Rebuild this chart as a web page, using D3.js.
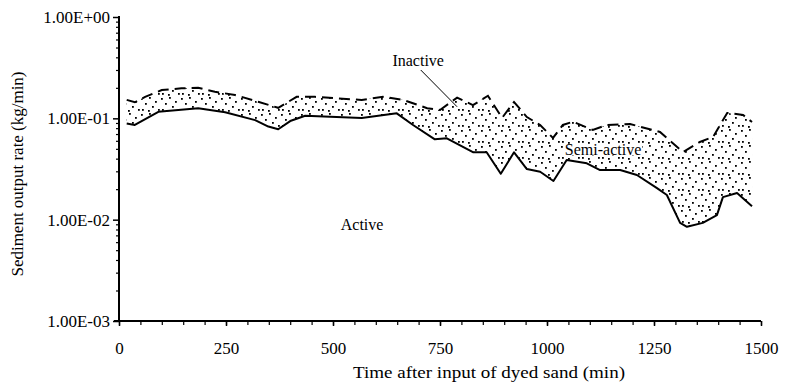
<!DOCTYPE html>
<html>
<head>
<meta charset="utf-8">
<script src="https://cdn.jsdelivr.net/npm/d3@7"></script>
<style>
  body { margin: 0; background: #fff; }
  text { font-family: "Liberation Serif", "Times New Roman", serif; fill: #000; }
</style>
</head>
<body>
<svg id="chart" width="796" height="384"></svg>
<script>
// Lower boundary of the semi-active band (Active / Semi-active limit)
const activeTime = [18, 37, 92, 185, 248, 318, 349, 372, 400, 435, 567, 649, 687, 738, 766, 828, 859, 892, 923, 953, 984, 1015, 1046, 1093, 1124, 1171, 1210, 1257, 1280, 1311, 1327, 1364, 1397, 1411, 1444, 1479];
const activeRate = [0.089, 0.086, 0.116, 0.126, 0.115, 0.096, 0.083, 0.078, 0.094, 0.106, 0.101, 0.112, 0.086, 0.062, 0.0635, 0.0462, 0.0462, 0.0284, 0.0462, 0.0316, 0.0297, 0.0241, 0.0388, 0.036, 0.0309, 0.0309, 0.0276, 0.0205, 0.0175, 0.0093, 0.0085, 0.0093, 0.0111, 0.0167, 0.0183, 0.0136];

// Upper boundary of the semi-active band (Semi-active / Inactive limit)
const inactiveTime = [18, 37, 61, 100, 146, 185, 224, 271, 325, 372, 396, 415, 458, 567, 617, 664, 720, 750, 790, 827, 862, 895, 923, 953, 984, 1014, 1037, 1061, 1107, 1140, 1194, 1264, 1318, 1357, 1388, 1421, 1458, 1479];
const inactiveRate = [0.152, 0.144, 0.163, 0.190, 0.198, 0.200, 0.183, 0.170, 0.146, 0.127, 0.146, 0.163, 0.163, 0.152, 0.163, 0.152, 0.126, 0.121, 0.160, 0.135, 0.167, 0.101, 0.145, 0.103, 0.086, 0.064, 0.086, 0.0926, 0.0767, 0.086, 0.088, 0.0733, 0.0465, 0.0584, 0.0655, 0.113, 0.108, 0.092];

// Axis ticks
const xMajorTicks = [0, 250, 500, 750, 1000, 1250, 1500];
const xMinorStep = 50;
const yMajorTicks = [0.001, 0.01, 0.1, 1];
const yTickLabels = ["1.00E-03", "1.00E-02", "1.00E-01", "1.00E+00"];

// Zone labels, placed in data coordinates
const zoneNames = ["Inactive", "Semi-active", "Active"];
const zoneTime = [699, 1131, 568];
const zoneRate = [0.33, 0.043, 0.0079];
// Leader from the "Inactive" label to the band
const leaderTime = [705, 790];
const leaderRate = [0.30, 0.13];

const svg = d3.select("#chart");

const x = d3.scaleLinear().domain([0, 1500]).range([119, 761]);
const y = d3.scaleLog().domain([0.001, 1]).range([321, 17]);

const active = activeTime.map((t, i) => [t, activeRate[i]]);
const inactive = inactiveTime.map((t, i) => [t, inactiveRate[i]]);

// Stipple pattern for the semi-active band
const defs = svg.append("defs");
const pat = defs.append("pattern")
  .attr("id", "stipple")
  .attr("patternUnits", "userSpaceOnUse")
  .attr("width", 20).attr("height", 16);
const dots = [[1, 2], [9, 1], [15, 5], [5, 7], [12, 10], [2, 13], [18, 13], [8, 14]];
pat.selectAll("rect").data(dots).join("rect")
  .attr("x", d => d[0]).attr("y", d => d[1])
  .attr("width", 1.8).attr("height", 1.8)
  .attr("fill", "#000");

const lineGen = d3.line().x(d => x(d[0])).y(d => y(d[1]));

// Band polygon: upper boundary forward, lower boundary back
const band = inactive.concat(active.slice().reverse());
svg.append("path")
  .attr("d", d3.line().x(d => x(d[0])).y(d => y(d[1])).curve(d3.curveLinearClosed)(band))
  .attr("fill", "url(#stipple)")
  .attr("stroke", "none");

svg.append("path")
  .attr("d", lineGen(active))
  .attr("fill", "none").attr("stroke", "#000").attr("stroke-width", 2)
  .attr("stroke-linejoin", "round");

svg.append("path")
  .attr("d", lineGen(inactive))
  .attr("fill", "none").attr("stroke", "#000").attr("stroke-width", 2)
  .attr("stroke-dasharray", "11,6");

// Y axis: minor ticks for 2..9 in each decade
const yMinor = [];
for (let e = -3; e < 0; e++) for (let m = 2; m <= 9; m++) yMinor.push(m * Math.pow(10, e));
svg.append("g").attr("transform", "translate(119,0)")
  .call(d3.axisLeft(y).tickValues(yMinor).tickSize(3).tickFormat(""))
  .call(g => g.select(".domain").remove())
  .selectAll("line").attr("stroke-width", 1.2);

const yAxis = svg.append("g").attr("transform", "translate(119,0)")
  .call(d3.axisLeft(y).tickValues(yMajorTicks).tickSize(6).tickPadding(3)
    .tickFormat((d, i) => yTickLabels[i]));
yAxis.select(".domain").attr("stroke-width", 2).attr("d", "M0,16V322");
yAxis.selectAll("line").attr("stroke-width", 1.5);
yAxis.selectAll("text").attr("font-size", 17).attr("font-family", "Liberation Serif");

// X axis
const xMinor = d3.range(0, 1501, xMinorStep);
svg.append("g").attr("transform", "translate(0,321)")
  .call(d3.axisBottom(x).tickValues(xMinor).tickSize(4).tickFormat(""))
  .call(g => g.select(".domain").remove())
  .selectAll("line").attr("stroke-width", 1.2);

const xAxis = svg.append("g").attr("transform", "translate(0,321)")
  .call(d3.axisBottom(x).tickValues(xMajorTicks).tickSize(5).tickPadding(16)
    .tickFormat(d3.format("d")));
xAxis.select(".domain").attr("stroke-width", 2).attr("d", "M114,0H761");
xAxis.selectAll("line").attr("stroke-width", 1.5);
xAxis.selectAll("text").attr("font-size", 17).attr("font-family", "Liberation Serif");

// Axis titles
svg.append("text")
  .attr("x", 489).attr("y", 378)
  .attr("text-anchor", "middle").attr("font-size", 16)
  .attr("textLength", 272).attr("lengthAdjust", "spacingAndGlyphs")
  .text("Time after input of dyed sand  (min)");

svg.append("text")
  .attr("transform", "translate(23,174) rotate(-90)")
  .attr("text-anchor", "middle").attr("font-size", 16)
  .attr("textLength", 205).attr("lengthAdjust", "spacingAndGlyphs")
  .text("Sediment output rate  (kg/min)");

// Leader line
svg.append("line")
  .attr("x1", x(leaderTime[0])).attr("y1", y(leaderRate[0]))
  .attr("x2", x(leaderTime[1])).attr("y2", y(leaderRate[1]))
  .attr("stroke", "#000").attr("stroke-width", 1);

// Zone labels (white box behind each so the stipple does not cross the text)
zoneNames.forEach((name, i) => {
  const t = svg.append("text")
    .attr("x", x(zoneTime[i])).attr("y", y(zoneRate[i]))
    .attr("text-anchor", "middle").attr("font-size", 16)
    .text(name);
  const b = t.node().getBBox();
  svg.insert("rect", () => t.node())
    .attr("x", b.x - 1).attr("y", b.y + 3).attr("width", b.width + 2).attr("height", b.height - 6)
    .attr("fill", "#fff");
});
</script>
</body>
</html>
